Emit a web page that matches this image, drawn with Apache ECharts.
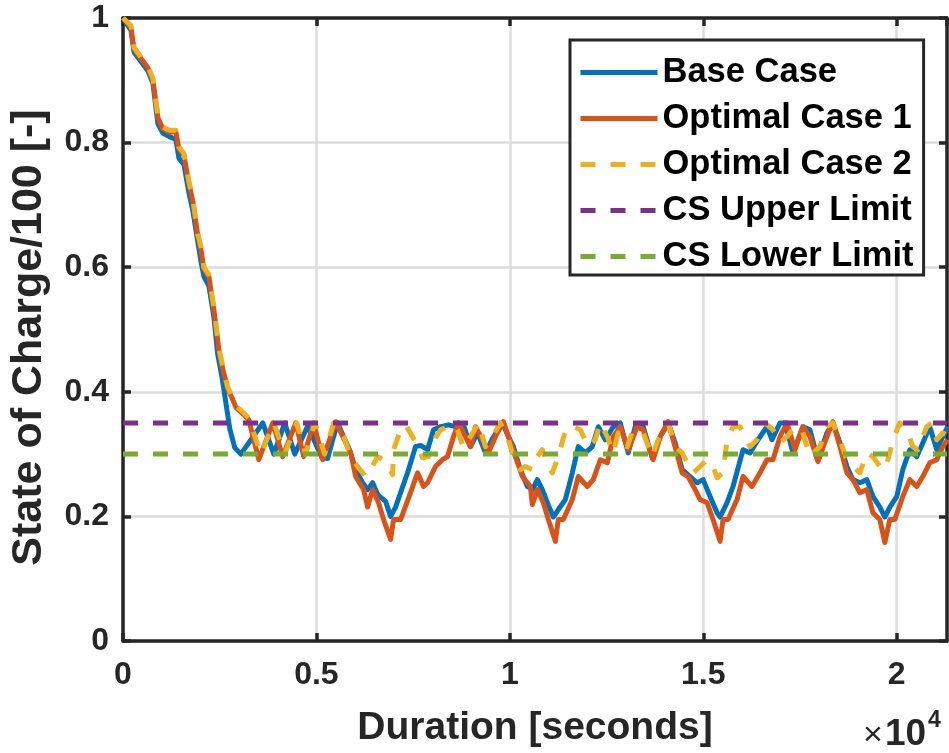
<!DOCTYPE html>
<html><head><meta charset="utf-8">
<script src="https://cdn.jsdelivr.net/npm/echarts@6/dist/echarts.min.js"></script>
<style>html,body{margin:0;padding:0;background:#fff}#c{width:949px;height:753px}</style>
</head><body><div id="c"></div><script>
// ---- data (time in seconds, SOC/100) ----
const baseT = [0,206,284,465,645,774,903,1032,1187,1368,1445,1574,1703,1807,1936,2013,2091,2220,2349,2449,2555,2684,2762,2890,3046,3613,3898,4181,4439,4775,5136,5290,5420,5549,5704,5885,6014,6194,6323,6453,6582,6788,6917,7046,7175,7356,7562,7691,7872,8027,8208,8414,8595,8801,8982,9163,9369,9550,9808,9963,10092,10272,10453,10582,10711,10840,10969,11124,11253,11434,11614,11769,11950,12131,12286,12466,12673,12853,13060,13240,13447,13679,13886,14092,14273,14454,14660,14840,14995,15176,15356,15434,15614,15769,16027,16208,16414,16647,16776,16983,17112,17318,17576,17757,17964,18196,18351,18532,18712,18867,19048,19228,19383,19564,19693,19822,20003,20157,20338,20519,20674,20854,21035,21190,21319];
const baseV = [1.0,0.98,0.945,0.93,0.915,0.895,0.83,0.815,0.81,0.805,0.775,0.765,0.72,0.69,0.64,0.61,0.585,0.57,0.52,0.46,0.425,0.372,0.34,0.31,0.30,0.35,0.30,0.35,0.30,0.345,0.295,0.293,0.323,0.35,0.328,0.302,0.275,0.254,0.243,0.254,0.235,0.224,0.20,0.215,0.238,0.27,0.312,0.314,0.307,0.339,0.344,0.347,0.344,0.347,0.312,0.334,0.302,0.325,0.35,0.328,0.312,0.275,0.248,0.243,0.259,0.243,0.222,0.199,0.211,0.227,0.27,0.312,0.302,0.312,0.344,0.323,0.344,0.35,0.302,0.344,0.344,0.294,0.328,0.35,0.318,0.275,0.264,0.254,0.259,0.232,0.206,0.199,0.222,0.248,0.307,0.302,0.323,0.344,0.323,0.35,0.35,0.302,0.344,0.339,0.291,0.334,0.35,0.318,0.28,0.259,0.254,0.259,0.232,0.215,0.199,0.215,0.232,0.275,0.307,0.296,0.318,0.344,0.307,0.328,0.344];

const opt1T = [0,206,284,465,645,774,903,1032,1187,1368,1445,1574,1703,1807,1936,2013,2091,2220,2349,2478,2581,2710,2839,2917,3123,3252,3510,3872,4130,4465,4672,4930,5162,5497,5885,6014,6220,6323,6453,6607,6736,6917,6995,7175,7433,7614,7769,7872,8078,8259,8388,8543,8672,8801,8982,9111,9292,9446,9627,9834,9963,10143,10324,10530,10582,10711,10866,10995,11176,11253,11382,11614,11769,12002,12157,12337,12518,12673,12853,13060,13292,13447,13705,13886,14092,14221,14454,14608,14789,14918,15098,15253,15434,15511,15640,15872,16027,16259,16466,16647,16802,16983,17163,17370,17576,17757,17964,18196,18351,18532,18712,18867,19048,19228,19383,19564,19693,19822,19951,20157,20338,20519,20674,20854,21035,21190,21319];
const opt1V = [1.0,0.985,0.95,0.935,0.92,0.90,0.84,0.822,0.817,0.817,0.79,0.78,0.735,0.705,0.65,0.63,0.597,0.585,0.532,0.468,0.436,0.404,0.387,0.375,0.363,0.355,0.291,0.35,0.296,0.35,0.296,0.35,0.291,0.352,0.302,0.264,0.243,0.215,0.243,0.222,0.195,0.163,0.195,0.195,0.238,0.270,0.248,0.254,0.28,0.291,0.296,0.328,0.35,0.334,0.312,0.344,0.323,0.302,0.328,0.352,0.328,0.296,0.264,0.248,0.219,0.243,0.222,0.195,0.16,0.195,0.195,0.227,0.264,0.248,0.259,0.291,0.286,0.328,0.344,0.307,0.344,0.339,0.291,0.328,0.352,0.323,0.27,0.264,0.243,0.227,0.222,0.195,0.16,0.195,0.195,0.227,0.264,0.248,0.270,0.291,0.291,0.328,0.35,0.307,0.344,0.328,0.288,0.328,0.352,0.312,0.27,0.259,0.238,0.243,0.206,0.195,0.158,0.195,0.195,0.232,0.259,0.248,0.264,0.286,0.291,0.312,0.323];

const opt2T = [0,206,284,465,645,774,903,1032,1187,1368,1445,1574,1703,1807,1936,2013,2091,2220,2349,2478,2581,2710,2839,2917,3123,3252,3560,3900,4180,4490,4720,4960,5210,5446,5704,5885,6065,6272,6401,6582,6736,6865,6969,6995,7175,7304,7485,7614,7743,7898,8078,8208,8517,8646,8801,8982,9188,9369,9550,9756,9937,10092,10272,10401,10582,10711,10840,10995,11098,11253,11382,11485,11640,11821,12027,12208,12337,12518,12673,12802,13034,13189,13447,13679,13834,14092,14273,14454,14583,14737,14918,15098,15253,15356,15511,15614,15769,15950,16208,16388,16595,16802,16983,17163,17370,17551,17757,18015,18196,18351,18532,18712,18867,19048,19228,19383,19564,19693,19822,19899,20080,20261,20416,20545,20777,20906,21035,21190,21319];
const opt2V = [1.0,0.988,0.953,0.937,0.922,0.903,0.843,0.825,0.82,0.82,0.793,0.783,0.738,0.708,0.653,0.633,0.60,0.588,0.535,0.47,0.44,0.407,0.39,0.378,0.366,0.358,0.30,0.35,0.30,0.35,0.30,0.35,0.30,0.35,0.328,0.296,0.28,0.264,0.275,0.296,0.291,0.28,0.267,0.307,0.339,0.347,0.328,0.312,0.294,0.296,0.326,0.339,0.347,0.339,0.31,0.328,0.35,0.312,0.328,0.35,0.328,0.296,0.275,0.28,0.275,0.296,0.307,0.28,0.27,0.296,0.326,0.344,0.344,0.339,0.312,0.323,0.35,0.328,0.302,0.334,0.312,0.339,0.334,0.296,0.323,0.35,0.312,0.302,0.286,0.27,0.28,0.291,0.28,0.262,0.27,0.323,0.344,0.344,0.312,0.323,0.35,0.339,0.318,0.328,0.344,0.339,0.296,0.312,0.344,0.35,0.323,0.291,0.28,0.27,0.302,0.296,0.28,0.275,0.302,0.323,0.35,0.339,0.312,0.307,0.344,0.35,0.323,0.334,0.33];

const limitT = [0, 21300];
const upperV = [0.35, 0.35];
const lowerV = [0.30, 0.30];

const seriesNames = ['Base Case','Optimal Case 1','Optimal Case 2','CS Upper Limit','CS Lower Limit'];
const xTicks = [0, 5000, 10000, 15000, 20000];
const xName = 'Duration [seconds]';
const yName = 'State of Charge/100 [-]';

// ---- chart ----
const FONT = "'Liberation Sans', Arial, sans-serif";
const AX = '#262626';
const LW = 5;
const pair = (T, V) => T.map((t, i) => [t, V[i]]);
const chart = echarts.init(document.getElementById('c'));
const axisCommon = {
  axisLine: {show: true, onZero: false, lineStyle: {color: AX, width: 3.5}},
  axisTick: {show: true, inside: true, length: 8, lineStyle: {color: AX, width: 3.5}}
};
const mk = (name, T, V, color, dashed, z) => ({
  name, type: 'line', data: pair(T, V), symbol: 'none', showSymbol: false, z,
  lineStyle: {color, width: LW, type: dashed ? [15, 15] : 'solid', cap: 'butt', join: 'round'},
  itemStyle: {color}, animation: false, clip: true
});
chart.setOption({
  animation: false,
  backgroundColor: '#fff',
  grid: {left: 122, right: 2, top: 18, bottom: 111, containLabel: false},
  xAxis: [
    Object.assign({type: 'value', min: 0, max: 21300, interval: 5000, position: 'bottom',
      name: xName, nameLocation: 'middle', nameGap: 68,
      nameTextStyle: {fontFamily: FONT, fontWeight: 'bold', fontSize: 39, color: AX},
      axisLabel: {margin: 18, fontFamily: FONT, fontWeight: 'bold', fontSize: 32, color: AX,
        showMaxLabel: false, formatter: v => xTicks.includes(v) ? String(v / 10000) : ''},
      splitLine: {show: true, lineStyle: {color: '#dcdcdc', width: 2.5}}}, axisCommon),
    Object.assign({type: 'value', min: 0, max: 21300, interval: 5000, position: 'top',
      axisLabel: {show: false}, splitLine: {show: false}}, axisCommon)
  ],
  yAxis: [
    Object.assign({type: 'value', min: 0, max: 1, interval: 0.2, position: 'left',
      name: yName, nameLocation: 'middle', nameGap: 72,
      nameTextStyle: {fontFamily: FONT, fontWeight: 'bold', fontSize: 43, color: AX, padding: [0, 16, 0, 0]},
      axisLabel: {margin: 14, fontFamily: FONT, fontWeight: 'bold', fontSize: 32, color: AX,
        formatter: v => String(+v.toFixed(1))},
      splitLine: {show: true, lineStyle: {color: '#dcdcdc', width: 2.5}}}, axisCommon),
    Object.assign({type: 'value', min: 0, max: 1, interval: 0.2, position: 'right',
      axisLabel: {show: false}, splitLine: {show: false}}, axisCommon)
  ],
  legend: {
    orient: 'vertical', left: 570, top: 40, padding: [15, 10, 1, 8], itemGap: 11,
    itemWidth: 77, itemHeight: 30, borderColor: AX, borderWidth: 3, backgroundColor: '#fff',
    data: seriesNames,
    itemStyle: {opacity: 0},
    lineStyle: {width: LW},
    textStyle: {fontFamily: FONT, fontWeight: 'bold', fontSize: 34.5, color: '#000'}
  },
  series: [
    mk(seriesNames[0], baseT, baseV, '#0072BD', false, 2),
    mk(seriesNames[1], opt1T, opt1V, '#D95319', false, 3),
    mk(seriesNames[2], opt2T, opt2V, '#EDB120', true, 4),
    mk(seriesNames[3], limitT, upperV, '#7E2F8E', true, 5),
    mk(seriesNames[4], limitT, lowerV, '#77AC30', true, 5)
  ],
  graphic: [
    {type: 'text', left: 863, top: 719, style: {text: '×', font: "34px 'Liberation Sans', Arial", fill: AX}},
    {type: 'text', left: 885, top: 716, style: {text: '10', font: "bold 37px 'Liberation Sans', Arial", fill: AX}},
    {type: 'text', left: 928, top: 709, style: {text: '4', font: "bold 23px 'Liberation Sans', Arial", fill: AX}}
  ]
});
</script></body></html>
